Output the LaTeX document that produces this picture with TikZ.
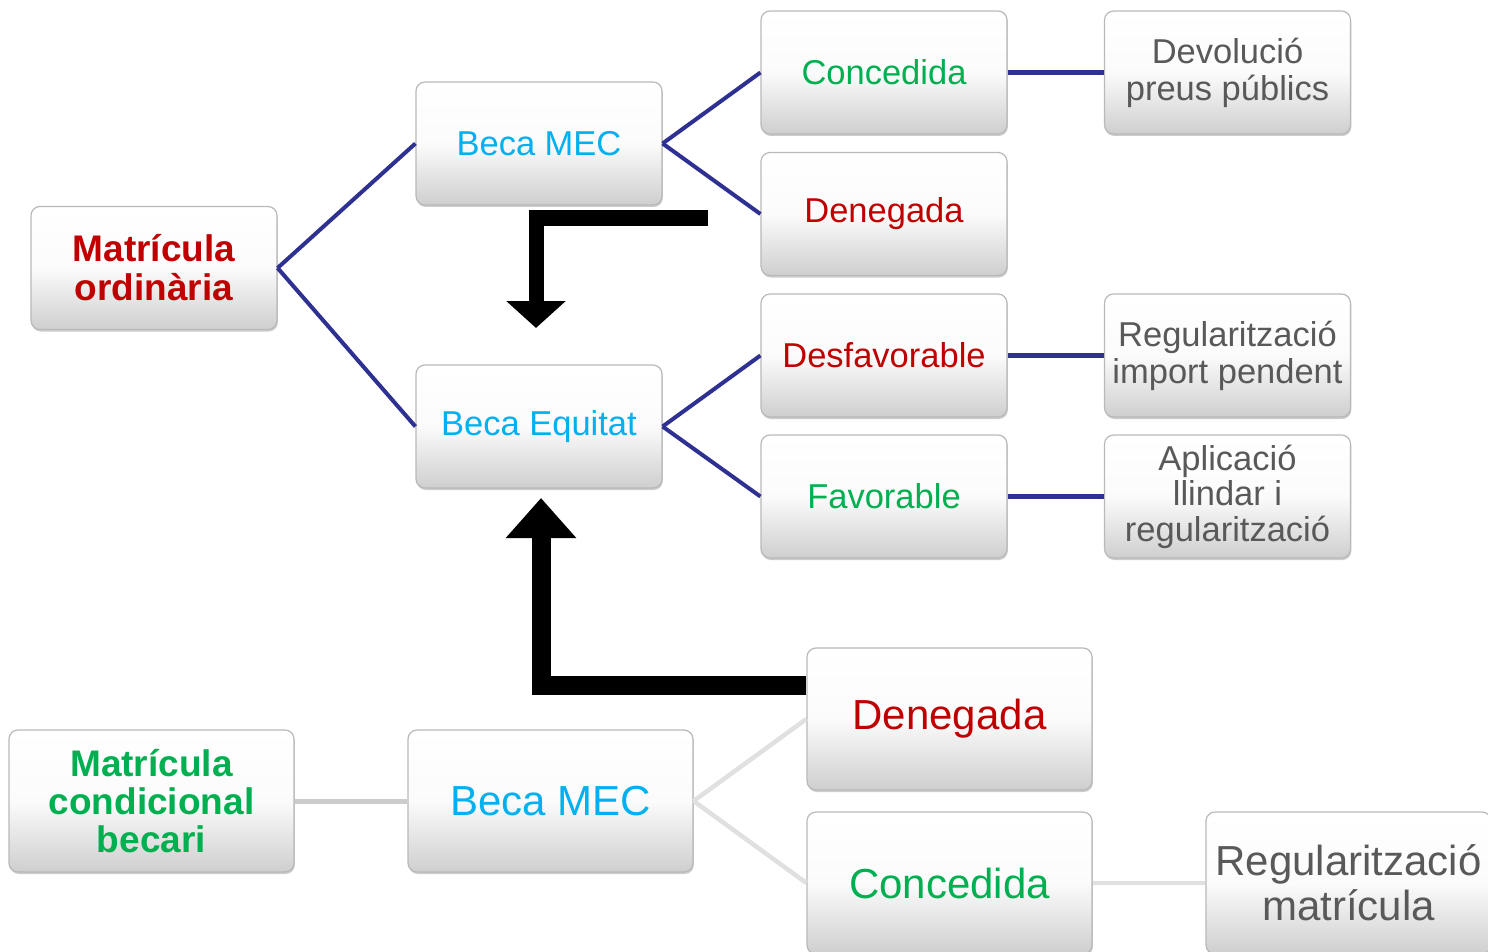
\documentclass[tikz,border=0pt]{standalone}
\usepackage{fontspec}
\setmainfont{Liberation Sans}
\usetikzlibrary{arrows.meta,shadows}
\definecolor{navy}{HTML}{2E3192}
\definecolor{cred}{HTML}{C00000}
\definecolor{cgreen}{HTML}{00B050}
\definecolor{ccyan}{HTML}{00B0F0}
\definecolor{cgrey}{HTML}{595959}
\definecolor{lgrey}{HTML}{E0E0E0}
\definecolor{mgrey}{HTML}{CCCCCC}
\tikzset{
  box/.style={rounded corners=9pt, top color=white, bottom color=gray!38, middle color=gray!3,
    draw=gray!55, line width=1.2pt, align=center, inner sep=0pt,
    drop shadow={shadow xshift=0.8pt, shadow yshift=-2pt, opacity=.4, fill=gray}},
  smallbox/.style={box, minimum width=246pt, minimum height=123pt, font=\fontsize{34.5}{37}\selectfont},
  bigbox/.style={box, minimum width=285pt, minimum height=142pt, font=\fontsize{42}{45}\selectfont},
  boldbox/.style={box, minimum width=246pt, minimum height=123pt, font=\fontsize{37}{39}\selectfont\bfseries},
  boldbig/.style={box, minimum width=285pt, minimum height=142pt, font=\fontsize{37}{38}\selectfont\bfseries},
  navyline/.style={draw=navy, line width=4pt},
  navyh/.style={draw=navy, line width=5pt},
  greyline/.style={draw=lgrey, line width=4.5pt},
  greydark/.style={draw=mgrey, line width=5pt},
  bigarrow/.style={draw=black, line join=miter},
}
\begin{document}
\begin{tikzpicture}[x=1pt,y=1pt]
\useasboundingbox (0,0) rectangle (1488,-952);
% top section
\node[boldbox, text=cred] (mo) at (154,-268) {Matrícula\\ordinària};
\node[smallbox, text=ccyan] (bm1) at (539,-143.5) {Beca MEC};
\node[smallbox, text=ccyan] (be) at (539,-426.5) {Beca Equitat};
\node[smallbox, text=cgreen] (c1) at (884,-72.5) {Concedida};
\node[smallbox, text=cred] (d1) at (884,-214) {Denegada};
\node[smallbox, text=cred] (df) at (884,-355.5) {Desfavorable};
\node[smallbox, text=cgreen] (fv) at (884,-496.5) {Favorable};
\node[smallbox, text=cgrey] (dv) at (1227.5,-72.5) {Devolució\\preus públics};
\node[smallbox, text=cgrey] (ri) at (1227.5,-355.5) {Regularització\\import pendent};
\node[smallbox, text=cgrey, font=\fontsize{34.5}{35.5}\selectfont] (al) at (1227.5,-496.5) {Aplicació\\llindar i\\regularització};
% bottom section
\node[boldbig, text=cgreen] (mc) at (151.5,-801) {Matrícula\\condicional\\becari};
\node[bigbox, text=ccyan] (bm2) at (550.5,-801) {Beca MEC};
\node[bigbox, text=cred] (d2) at (949.5,-719) {Denegada};
\node[bigbox, text=cgreen] (c2) at (949.5,-883) {Concedida};
\node[bigbox, text=cgrey] (rm) at (1348.5,-883) {Regularització\\matrícula};
% navy connectors
\draw[navyline] (mo.east) -- (bm1.west);
\draw[navyline] (mo.east) -- (be.west);
\draw[navyline] (bm1.east) -- (c1.west);
\draw[navyline] (bm1.east) -- (d1.west);
\draw[navyline] (be.east) -- (df.west);
\draw[navyline] (be.east) -- (fv.west);
\draw[navyh] (c1.east) -- (dv.west);
\draw[navyh] (df.east) -- (ri.west);
\draw[navyh] (fv.east) -- (al.west);
% grey connectors
\draw[greydark] (mc.east) -- (bm2.west);
\draw[greyline] (bm2.east) -- (d2.west);
\draw[greyline] (bm2.east) -- (c2.west);
\draw[greyline] (c2.east) -- (rm.west);
% black arrows
\coordinate (a1s) at (708,-218);
\coordinate (a1c) at (536,-218);
\coordinate (a1e) at (536,-328);
\draw[bigarrow, line width=15pt, -{Triangle[length=27pt,width=58pt]}] (a1s) -- (a1c) -- (a1e);
\coordinate (a2c) at (541,-685);
\coordinate (a2s) at (d2.west |- a2c);
\coordinate (a2e) at (541,-498);
\draw[bigarrow, line width=19pt, -{Triangle[length=40pt,width=68pt]}] (a2s) -- (a2c) -- (a2e);
\end{tikzpicture}
\end{document}
